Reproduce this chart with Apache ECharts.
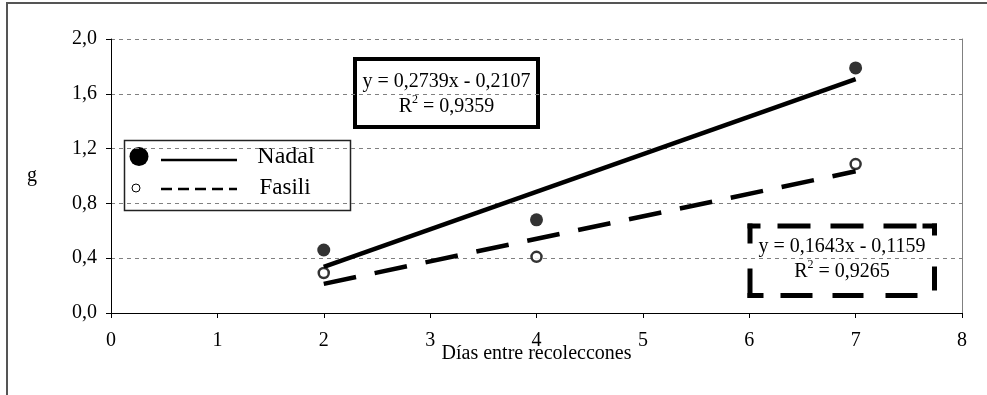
<!DOCTYPE html>
<html>
<head>
<meta charset="utf-8">
<script src="https://cdn.jsdelivr.net/npm/echarts@6/dist/echarts.min.js"></script>
<style>
  html, body { margin: 0; padding: 0; background: #fff; }
  #chart { width: 987px; height: 395px; }
</style>
</head>
<body>
<div id="chart"></div>
<script>
// Days between collections and harvested weight (g)
const days = [2, 4, 7];
const nadalValues = [0.46, 0.68, 1.789];
const fasiliValues = [0.292, 0.41, 1.087];

// Linear fits (slope, intercept, R²)
const nadalFit = { slope: 0.2739, intercept: -0.2107, r2: 0.9359 };
const fasiliFit = { slope: 0.1643, intercept: -0.1159, r2: 0.9265 };

const xTicks = [0, 1, 2, 3, 4, 5, 6, 7, 8];
const yTicks = [0, 0.4, 0.8, 1.2, 1.6, 2.0];

const FONT = '"Liberation Serif", "Times New Roman", serif';
const comma = (v, d) => v.toFixed(d).replace('.', ',');

function fitLine(fit) {
  const x0 = days[0], x1 = days[days.length - 1];
  return [[x0, fit.slope * x0 + fit.intercept], [x1, fit.slope * x1 + fit.intercept]];
}
function eqText(fit) {
  const sign = fit.intercept < 0 ? '-' : '+';
  return 'y = ' + comma(fit.slope, 4) + 'x ' + sign + ' ' + comma(Math.abs(fit.intercept), 4) +
         '\nR{sup|2} = ' + comma(fit.r2, 4);
}

const chart = echarts.init(document.getElementById('chart'), null, { renderer: 'canvas' });

const eqRich = {
  sup: { fontFamily: FONT, fontSize: 12, verticalAlign: 'top', padding: [0, 0, 8, 0], color: '#000' }
};

// dashed frame around the Fasili equation, one stroke per side
const dashSide = (x1, y1, x2, y2, dash) => ({
  type: 'line', shape: { x1, y1, x2, y2 },
  style: { stroke: '#000', lineWidth: 5, lineDash: dash, lineCap: 'butt' }
});

chart.setOption({
  backgroundColor: '#fff',
  animation: false,
  grid: { left: 111, right: 25, top: 39, bottom: 82, containLabel: false },
  xAxis: {
    type: 'value',
    min: xTicks[0], max: xTicks[xTicks.length - 1], interval: 1,
    name: 'Días entre recoleccones',
    nameLocation: 'middle',
    nameGap: 31,
    nameMoveOverlap: false,
    nameTextStyle: { fontFamily: FONT, fontSize: 20, color: '#000' },
    axisLine: { onZero: false, lineStyle: { color: '#000', width: 1 } },
    axisTick: { show: true, inside: false, length: 5, lineStyle: { color: '#000' } },
    axisLabel: { margin: 18, fontFamily: FONT, fontSize: 20, color: '#000' },
    splitLine: { show: false }
  },
  yAxis: [{
    type: 'value',
    min: yTicks[0], max: yTicks[yTicks.length - 1], interval: 0.4,
    name: 'g',
    nameLocation: 'middle',
    nameRotate: 0,
    nameGap: 74,
    nameMoveOverlap: false,
    nameTextStyle: { fontFamily: FONT, fontSize: 20, color: '#000', padding: [14, 0, 0, 0] },
    axisLine: { show: true, lineStyle: { color: '#000', width: 1 } },
    axisTick: { show: true, inside: false, length: 5, lineStyle: { color: '#000' } },
    axisLabel: { margin: 14, fontFamily: FONT, fontSize: 20, color: '#000',
                 formatter: v => comma(v, 1) },
    splitLine: { show: true, lineStyle: { color: '#808080', width: 1, type: [4, 4] } }
  }, {
    type: 'value',
    position: 'right',
    min: yTicks[0], max: yTicks[yTicks.length - 1], interval: 0.4,
    axisLine: { show: true, lineStyle: { color: '#808080', width: 1 } },
    axisTick: { show: false },
    axisLabel: { show: false },
    splitLine: { show: false }
  }],
  series: [
    {
      name: 'Nadal ajuste', type: 'line', data: fitLine(nadalFit),
      showSymbol: false, symbol: 'none', z: 3,
      lineStyle: { color: '#000', width: 4.5, type: 'solid', cap: 'butt' }
    },
    {
      name: 'Fasili ajuste', type: 'line', data: fitLine(fasiliFit),
      showSymbol: false, symbol: 'none', z: 3,
      lineStyle: { color: '#000', width: 4.5, type: [33, 19], cap: 'butt' }
    },
    {
      name: 'Nadal', type: 'scatter', z: 4,
      data: days.map((d, i) => [d, nadalValues[i]]),
      symbol: 'circle', symbolSize: 13,
      itemStyle: { color: '#000' }
    },
    {
      name: 'Fasili', type: 'scatter', z: 4,
      data: days.map((d, i) => [d, fasiliValues[i]]),
      symbol: 'circle', symbolSize: 10,
      itemStyle: { color: '#fff', borderColor: '#000', borderWidth: 2.5 }
    }
  ],
  graphic: [
    // outer frame
    { type: 'rect', silent: true, z: 0,
      shape: { x: 7, y: 3, width: 1000, height: 420 },
      style: { fill: null, stroke: '#555', lineWidth: 2 } },
    // legend
    { type: 'group', z: 10, children: [
      { type: 'rect', shape: { x: 124.5, y: 140.5, width: 226, height: 70 },
        style: { fill: '#fff', stroke: '#222', lineWidth: 1.5 } },
      { type: 'circle', shape: { cx: 139, cy: 156.5, r: 9.5 }, style: { fill: '#000' } },
      { type: 'line', shape: { x1: 161, y1: 160, x2: 237, y2: 160 },
        style: { stroke: '#000', lineWidth: 2.5 } },
      { type: 'text', style: { x: 286, y: 157, text: 'Nadal', fontFamily: FONT, fontSize: 24,
        fill: '#000', align: 'center', verticalAlign: 'middle' } },
      { type: 'circle', shape: { cx: 136, cy: 188, r: 4 },
        style: { fill: '#fff', stroke: '#000', lineWidth: 1 } },
      { type: 'line', shape: { x1: 161, y1: 189, x2: 237, y2: 189 },
        style: { stroke: '#000', lineWidth: 2.5, lineDash: [11, 6] } },
      { type: 'text', style: { x: 285, y: 188, text: 'Fasili', fontFamily: FONT, fontSize: 23,
        fill: '#000', align: 'center', verticalAlign: 'middle' } }
    ]},
    // Nadal equation
    { type: 'group', z: 10, children: [
      { type: 'rect', shape: { x: 355, y: 59, width: 183, height: 68 },
        style: { fill: '#fff', stroke: '#000', lineWidth: 4 } },
      { type: 'text', style: { x: 446.5, y: 94, text: eqText(nadalFit), rich: eqRich,
        fontFamily: FONT, fontSize: 20, lineHeight: 25, fill: '#000',
        align: 'center', verticalAlign: 'middle' } }
    ]},
    // Fasili equation
    { type: 'group', z: 10, children: [
      { type: 'rect', shape: { x: 750, y: 226, width: 184, height: 69.5 },
        style: { fill: '#fff', stroke: null } },
      dashSide(747.5, 226, 937, 226, [13, 17, 33, 20, 33, 20, 33, 6, 15]),
      dashSide(934.5, 223.5, 934.5, 298, [12, 31, 24, 100]),
      dashSide(747.5, 295.5, 937, 295.5, [16, 17, 32, 20, 31, 22, 32, 100]),
      dashSide(750, 223.5, 750, 298, [20, 25, 30, 10]),
      { type: 'text', style: { x: 842, y: 259, text: eqText(fasiliFit), rich: eqRich,
        fontFamily: FONT, fontSize: 20, lineHeight: 25, fill: '#000',
        align: 'center', verticalAlign: 'middle' } }
    ]}
  ]
});
</script>
</body>
</html>
